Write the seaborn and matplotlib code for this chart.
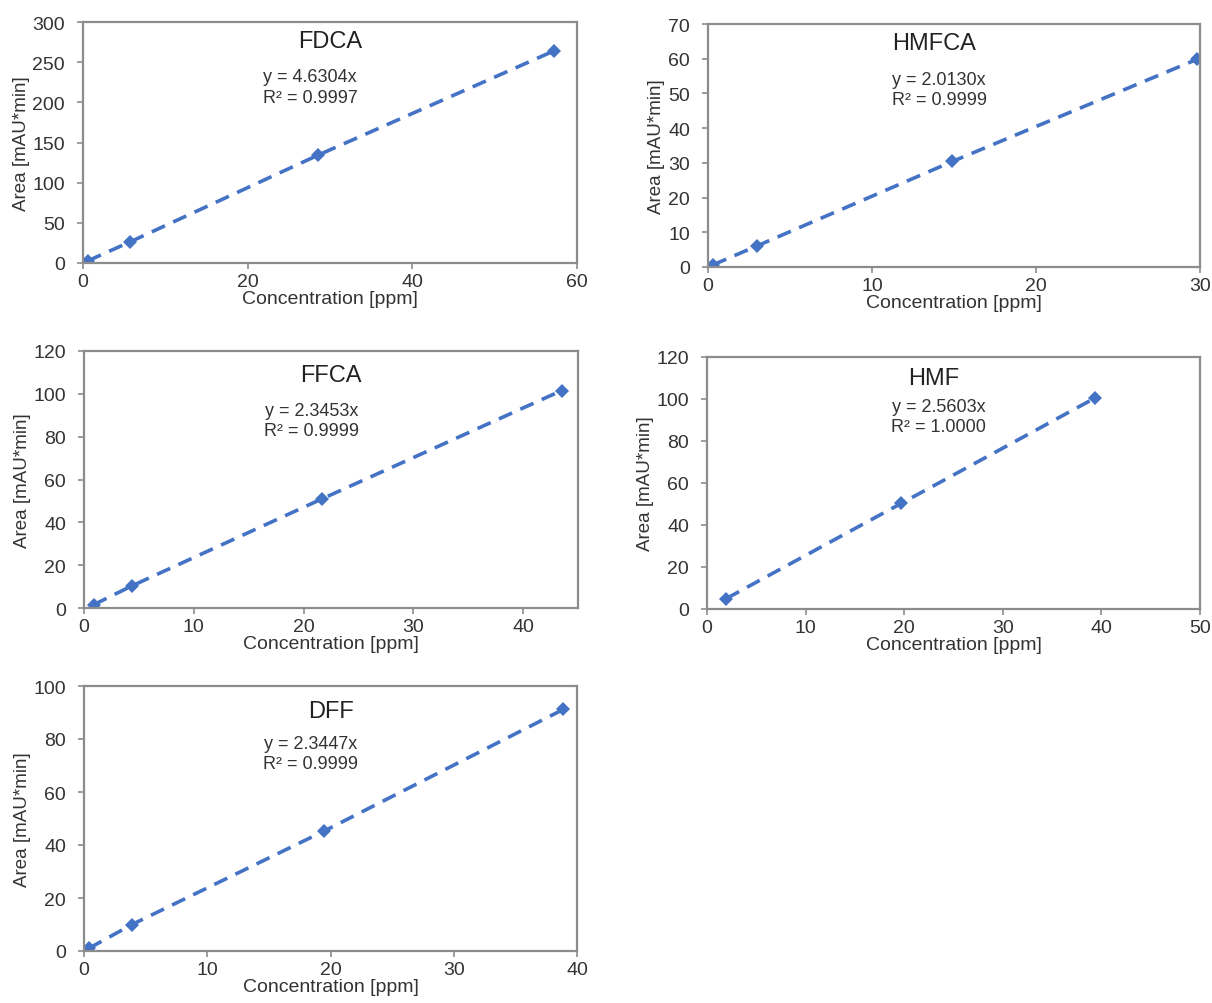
import numpy as np
import pandas as pd
import matplotlib
matplotlib.use('Agg')
import matplotlib.pyplot as plt
import seaborn as sns

# calibration data
fdca_conc = [0.57, 5.72, 28.6, 57.2]
fdca_area = [2.6, 26.3, 134.5, 264.0]
hmfca_conc = [0.30, 3.0, 14.9, 29.8]
hmfca_area = [0.6, 6.1, 30.4, 59.8]
ffca_conc = [0.87, 4.35, 21.7, 43.5]
ffca_area = [1.5, 10.3, 51.0, 101.5]
hmf_conc = [1.97, 19.7, 39.4]
hmf_area = [5.0, 50.3, 100.6]
dff_conc = [0.39, 3.9, 19.5, 38.9]
dff_area = [1.0, 10.0, 45.3, 91.2]

names = ['FDCA', 'HMFCA', 'FFCA', 'HMF', 'DFF']
slopes = ['4.6304', '2.0130', '2.3453', '2.5603', '2.3447']
r2 = ['0.9997', '0.9999', '0.9999', '1.0000', '0.9999']
x_limits = [(0, 60, 20), (0, 30, 10), (0, 45, 10), (0, 50, 10), (0, 40, 10)]
y_limits = [(0, 300, 50), (0, 70, 10), (0, 120, 20), (0, 120, 20), (0, 100, 20)]

sns.set_style('white')
plt.rcParams['font.family'] = ['Liberation Sans', 'DejaVu Sans']

W, H = 1212, 1004
fig = plt.figure(figsize=(W / 100, H / 100), dpi=100)

# axes boxes in pixels: left, top, right, bottom
boxes = [(83, 23, 577, 264), (708, 25, 1200, 268), (84, 352, 578, 609),
         (707, 358, 1200, 610), (84, 687, 577, 952)]
title_y = [0.92, 0.92, 0.905, 0.915, 0.905]
eq_y = [0.73, 0.73, 0.73, 0.765, 0.745]
title_x = [0.50, 0.46, 0.50, 0.46, 0.50]
eq_x = [0.46, 0.47, 0.46, 0.47, 0.46]

data = [(fdca_conc, fdca_area), (hmfca_conc, hmfca_area), (ffca_conc, ffca_area),
        (hmf_conc, hmf_area), (dff_conc, dff_area)]

blue = '#4472C4'
grey = '#8c8c8c'

for i, (xs, ys) in enumerate(data):
    l, t, r, b = boxes[i]
    ax = fig.add_axes([l / W, 1 - b / H, (r - l) / W, (b - t) / H])
    df = pd.DataFrame({'conc': xs, 'area': ys})
    sns.lineplot(data=df, x='conc', y='area', ax=ax, color=blue, linestyle='--',
                 linewidth=2.6, marker='D', markersize=7, markeredgewidth=0,
                 dashes=False)
    ax.lines[0].set_dashes([4, 2.5])

    x0, x1, xs_ = x_limits[i]
    y0, y1, ys_ = y_limits[i]
    ax.set_xlim(x0, x1)
    ax.set_ylim(y0, y1)
    ax.set_xticks(np.arange(x0, x1 + 0.1, xs_))
    ax.set_yticks(np.arange(y0, y1 + 0.1, ys_))

    for s in ax.spines.values():
        s.set_color(grey)
        s.set_linewidth(1.6)
    ax.tick_params(axis='both', direction='out', length=4, width=1.2, color=grey,
                   labelsize=14, labelcolor='#333333', bottom=True, left=True)
    ax.tick_params(axis='y', pad=9)
    ax.tick_params(axis='x', pad=3)

    ax.set_xlabel('Concentration [ppm]', fontsize=14, color='#333333', labelpad=0)
    ax.set_ylabel('Area [mAU*min]', fontsize=13.5, color='#333333', labelpad=2)

    ax.text(title_x[i], title_y[i], names[i], transform=ax.transAxes, ha='center',
            va='center', fontsize=17, color='#222222')
    ax.text(eq_x[i], eq_y[i], f'y = {slopes[i]}x\nR² = {r2[i]}', transform=ax.transAxes,
            ha='center', va='center', fontsize=13, color='#333333', linespacing=1.25)

fig.savefig('out.png', dpi=100, facecolor='white')
